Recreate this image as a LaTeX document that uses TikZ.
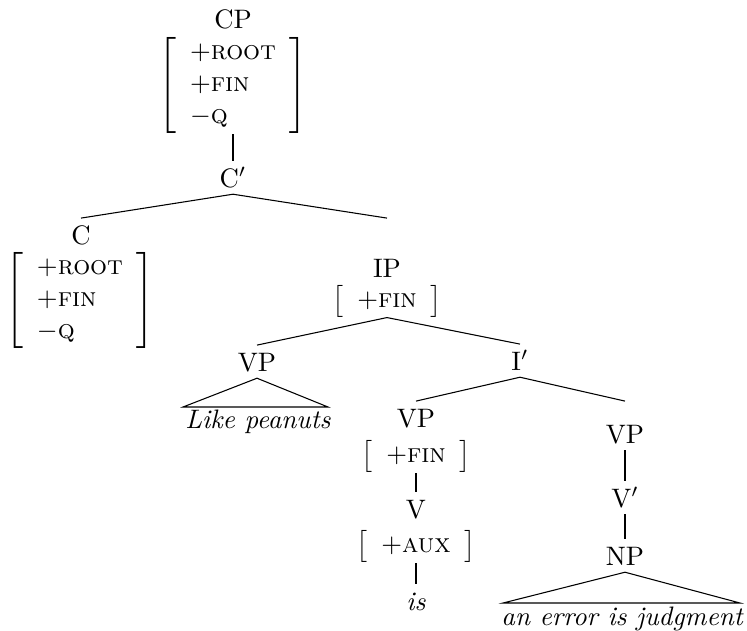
\documentclass[tikz,border=0pt]{standalone}
\usepackage{tikz}
\usepackage{amsmath}

\begin{document}
\begin{tikzpicture}[
			x=0.3745pt, y=-0.3745pt,
			catnode/.style={anchor=base, inner sep=2.5pt, text height=7pt, text depth=0pt},
			featnode/.style={inner sep=0pt},
			wordnode/.style={anchor=base, inner sep=0pt, font=\itshape},
		]
		\useasboundingbox (0,0) rectangle (747,630);
		
			%Nodes
			\node[catnode]	(CP)	at (233,29)	{CP};
			\node[featnode]	(CPf)	at (233,85.5)	{$\left[\begin{array}{l}+\textsc{root}\\+\textsc{fin}\\-\textsc{q}\end{array}\right]$};
			\node[catnode]	(Cbar)	at (233,187)	{C$'$};
			\node[catnode]	(C)	at (81,244)	{C};
			\node[featnode]	(Cf)	at (80,300.5)	{$\left[\begin{array}{l}+\textsc{root}\\+\textsc{fin}\\-\textsc{q}\end{array}\right]$};
			\node[catnode]	(IP)	at (387,277)	{IP};
			\node[featnode]	(IPf)	at (387,301)	{$\left[\begin{array}{l}+\textsc{fin}\end{array}\right]$};
			\node[catnode]	(VPa)	at (257,371)	{VP};
			\node[wordnode]	(LP)	at (258,428)	{Like peanuts};
			\node[catnode]	(Ibar)	at (520,370)	{I$'$};
			\node[catnode]	(VPb)	at (416,427)	{VP};
			\node[featnode]	(VPbf)	at (416,456.5)	{$\left[\begin{array}{l}+\textsc{fin}\end{array}\right]$};
			\node[catnode]	(V)	at (416,518)	{V};
			\node[featnode]	(Vf)	at (416,546.5)	{$\left[\begin{array}{l}+\textsc{aux}\end{array}\right]$};
			\node[catnode, font=\itshape]	(is)	at (416,610)	{is};
			\node[catnode]	(VPc)	at (625,443)	{VP};
			\node[catnode]	(Vbar)	at (625,507)	{V$'$};
			\node[catnode]	(NP)	at (625,565)	{NP};
			\node[wordnode]	(AE)	at (622,625)	{an error is judgment};
			\coordinate	(LPl)	at (183,407);
			\coordinate	(LPr)	at (328,407);
			\coordinate	(AEl)	at (503,603);
			\coordinate	(AEr)	at (740,603);
		
			%Lines
			\draw	(CPf.south) -- (Cbar.north);
			\draw	(Cbar.south) -- (C.north);
			\draw	(Cbar.south) -- (C.north -| IP.north);
			\draw	(IPf.south) -- (VPa.north);
			\draw	(IPf.south) -- (Ibar.north);
			\draw	(VPa.south) -- (LPl) -- (LPr) -- cycle;
			\draw	(Ibar.south) -- (VPb.north);
			\draw	(Ibar.south) -- (VPb.north -| VPc.north);
			\draw	(VPbf.south) -- (V.north);
			\draw	(Vf.south) -- (is.north);
			\draw	(VPc.south) -- (Vbar.north);
			\draw	(Vbar.south) -- (NP.north);
			\draw	(NP.south) -- (AEl) -- (AEr) -- cycle;
		
		\end{tikzpicture}
\end{document}
